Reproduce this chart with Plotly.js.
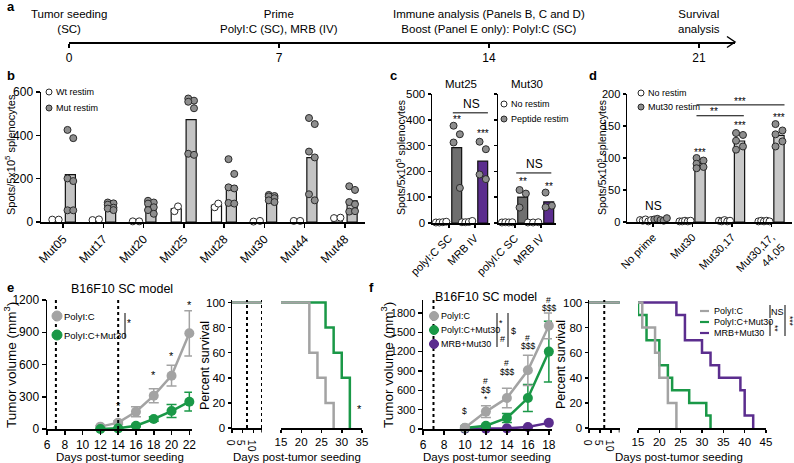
<!DOCTYPE html>
<html><head><meta charset="utf-8">
<script src="https://cdn.plot.ly/plotly-3.0.1.min.js"></script>
<style>html,body{margin:0;padding:0;background:#fff}#chart{width:794px;height:463px}</style>
</head><body><div id="chart"></div>
<script>
// ================= DATA =================
// Panel a – timeline
const timelineDays = [0, 7, 14, 21];
const timelineLabels = ["Tumor seeding<br>(SC)", "Prime<br>PolyI:C (SC), MRB (IV)",
  "Immune analysis (Panels B, C and D)<br>Boost (Panel E only): PolyI:C (SC)", "Survival<br>analysis"];

// Panel b – ELISPOT per mutation
const bMutations = ["Mut05","Mut17","Mut20","Mut25","Mut28","Mut30","Mut44","Mut48"];
const bWtRestim = [[11,11],[9,12],[3,3],[50,72],[68,85],[2,5],[5,5],[18,20]];
const bMutRestim = [[425,387,201,189,54,54],[90,86,80,66,62,55],[98,90,85,68,55,38],
  [570,560,555,525,315,310],[290,222,160,155,88,85],[125,120,118,110,100,92],
  [480,452,325,298,128,100],[165,148,92,82,48,50]];

// Panel c – Mut25 / Mut30 by route
const cRoutes = ["polyI:C SC","MRB IV"];
const cMut25NoRestim = [[2,2,3,5],[3,3,4,8]];
const cMut25Peptide = [[377,344,312,136],[315,286,188,170]];
const cMut30NoRestim = [[2,3,2,3],[2,2,3]];
const cMut30Peptide = [[128,114,60],[118,67,61]];

// Panel d – prime combinations
const dGroups = ["No prime","Mut30","Mut30,17","Mut30,17,<br>44,05"];
const dNoRestim = [[3,2,4,1,3],[1,1,2,1,2],[2,1,3,1,2],[1,2,1,2,1]];
const dMut30Restim = [[4,5,3,2,6],[100,96,91,86,84],[139,136,127,118,113],[153,143,137,126,118]];

// Panel e – tumor growth
const eDays = [12,14,16,18,20,22];
const ePolyIC = [22,59,161,310,496,890];
const ePolyICErr = [8,15,46,65,97,210];
const eMut30 = [0,6,31,93,167,254];
const eMut30Err = [3,5,10,20,60,87];
const eTreatDays = [7,14];
const eStarDays = [14,18,20,22];
const eStarY = [215,500,675,1150];
// Panel e – survival
const eSurvPolyDays = [0,22,24,26,28];
const eSurvPoly = [100,60,40,20,0];
const eSurvMutDays = [0,26,28,30,32];
const eSurvMut = [100,80,60,40,0];

// Panel f – tumor growth
const fDays = [10,12,14,16,18];
const fPolyIC = [20,270,480,910,1600];
const fPolyICErr = [30,90,150,235,200];
const fMut30 = [15,50,170,480,1200];
const fMut30Err = [10,20,70,210,470];
const fMRB = [5,5,10,30,95];
const fMRBErr = [5,5,5,10,20];
const fTreatDays = [7];
const fSigDays = [10,12,12,12,14,14,16,16,18,18];
const fSigLabels = ["$","#","$$","*","#","$$$","#","$$$","#","$$$"];
const fSigY = [280,745,610,465,1025,880,1415,1285,2000,1880];
// Panel f – survival
const fSurvPolyDays = [0,16,19,20,22,24];
const fSurvPoly = [100,80,60,40,20,0];
const fSurvMutDays = [0,15,17,20,22,23,27,31,32];
const fSurvMut = [100,90,70,50,40,30,20,10,0];
const fSurvMRBDays = [0,24,26,30,32,34,39,40,42];
const fSurvMRB = [100,90,70,60,50,40,30,10,0];

// ================= HELPERS =================
const W = 794, H = 463;
const X = p => p / W, Y = p => 1 - p / H;
const dom = (a, b) => [X(a), X(b)];
const vdom = (top, bottom) => [Y(bottom), Y(top)];
const mean = a => a.reduce((s, v) => s + v, 0) / a.length;
const safe = s => s.replace(/\$/g, "&#36;");   // keep "$" literal (no TeX)
const FONT = "Liberation Sans, Arial, sans-serif";
const GREY = "#a3a3a3", GREEN = "#1a9847", PURPLE = "#5b2d8e", DOTGREY = "#8e8e8e", EDGE = "#2a2a2a";
const tf = s => ({size:s, color:"#000", family:FONT});

function ax(extra) {
  return Object.assign({showgrid:false, zeroline:false, showline:true, linecolor:"#000", linewidth:1.5,
    ticks:"outside", ticklen:5, tickwidth:1.5, tickcolor:"#000", fixedrange:true, tickfont:tf(11.5)}, extra);
}
function swarm(vals, center, half, low) {
  const n = vals.length;
  if (Math.max(...vals) < low) return vals.map((v, j) => center + (n === 1 ? 0 : -half + 2 * half * j / (n - 1)));
  return vals.map((v, j) => center + (j % 2 === 0 ? -1 : 1) * half * 0.55);
}
function barTrace(xs, ys, w, fill, xa, ya) {
  return {type:"bar", x:xs, y:ys, width:w, xaxis:xa, yaxis:ya, marker:{color:fill, line:{color:"#111", width:1.2}}, hoverinfo:"skip"};
}
function dotTrace(groups, offset, half, low, fill, xa, ya) {
  const xs = [], ys = [];
  groups.forEach((g, i) => { swarm(g, i + offset, half, low).forEach((x, j) => { xs.push(x); ys.push(g[j]); }); });
  return {type:"scatter", mode:"markers", x:xs, y:ys, xaxis:xa, yaxis:ya,
    marker:{size:7, color:fill, line:{color:EDGE, width:1}}, hoverinfo:"skip", cliponaxis:false};
}
const shapes = [], annotations = [];
function txt(text, x, y, o) {
  o = o || {};
  annotations.push(Object.assign({text:safe(text), x:X(x), y:Y(y), xref:"paper", yref:"paper", showarrow:false,
    xanchor:"center", yanchor:"middle", font:tf(o.size || 11)}, o.extra || {}));
}
function dtxt(text, x, y, xr, yr, size, extra) {
  annotations.push(Object.assign({text:safe(text), x:x, y:y, xref:xr, yref:yr, showarrow:false, xanchor:"center",
    yanchor:"middle", font:tf(size || 10)}, extra || {}));
}
function dot(cx, cy, r, fill, edge) {
  shapes.push({type:"circle", xref:"paper", yref:"paper", xsizemode:"pixel", ysizemode:"pixel",
    xanchor:X(cx), yanchor:Y(cy), x0:-r, x1:r, y0:-r, y1:r, fillcolor:fill, line:{color:edge, width:1}});
}
function pline(x0, y0, x1, y1, color, w) {
  shapes.push({type:"line", xref:"paper", yref:"paper", x0:X(x0), y0:Y(y0), x1:X(x1), y1:Y(y1),
    line:{color:color, width:w}});
}
function dline(x0, y0, x1, y1, xr, yr, w) {
  shapes.push({type:"line", xref:xr, yref:yr, x0:x0, y0:y0, x1:x1, y1:y1, line:{color:"#000", width:w || 1}});
}
function vdotted(day, xr, yr) {
  shapes.push({type:"line", xref:xr, yref:yr + " domain", x0:day, x1:day, y0:0, y1:1,
    line:{color:"#000", width:2, dash:"dot"}});
}
function endCap(day, xr, yr) {
  shapes.push({type:"line", xref:xr, yref:yr + " domain", x0:day, x1:day, y0:-0.035, y1:0.0,
    line:{color:"#000", width:1.5}});
}

const traces = [];
const layout = {width:W, height:H, margin:{l:0, r:0, t:0, b:0}, paper_bgcolor:"#fff", plot_bgcolor:"rgba(0,0,0,0)",
  showlegend:false, barmode:"overlay", font:{family:FONT, color:"#000"}, shapes:shapes, annotations:annotations};

// ================= PANEL a =================
layout.xaxis = ax({domain:dom(69,735), range:[0,22.2], anchor:"y", tickvals:timelineDays, ticklen:4, tickfont:tf(12)});
layout.yaxis = {domain:vdom(20,42), range:[0,1], visible:false, anchor:"x", fixedrange:true};
timelineDays.forEach((d, i) => dtxt(timelineLabels[i], d, Y(21), "x", "paper", 11.5));
// arrow head at the end of the timeline axis
shapes.push({type:"path", xref:"paper", yref:"paper",
  path:`M ${X(727)} ${Y(36.5)} L ${X(735)} ${Y(42)} L ${X(727)} ${Y(47.5)}`, line:{color:"#000", width:1.5}});

// ================= PANEL b =================
const bIdx = bMutations.map((_, i) => i);
layout.xaxis2 = ax({domain:dom(41,365), range:[-0.55,7.5], anchor:"y2", tickvals:bIdx, ticktext:bMutations,
  tickangle:-45, ticklen:4, tickfont:tf(12)});
layout.yaxis2 = ax({domain:vdom(92,222), range:[0,600], anchor:"x2", tickvals:[0,200,400,600], ticklen:4, tickfont:tf(12)});
traces.push(barTrace(bIdx.map(i => i - 0.19), bWtRestim.map(mean), 0.25, "#fff", "x2", "y2"));
traces.push(barTrace(bIdx.map(i => i + 0.18), bMutRestim.map(mean), 0.25, "#c4c4c4", "x2", "y2"));
traces.push(dotTrace(bWtRestim, -0.19, 0.08, 30, "#fff", "x2", "y2"));
traces.push(dotTrace(bMutRestim, 0.18, 0.13, 30, DOTGREY, "x2", "y2"));
dot(49, 92, 3, "#fff", EDGE); txt("Wt restim", 54, 92, {size:9, extra:{xanchor:"left"}});
dot(49, 108, 3, DOTGREY, EDGE); txt("Mut restim", 54, 108, {size:9, extra:{xanchor:"left"}});
txt("Spots/5x10<sup>5</sup> splenocytes", 10, 155, {size:11, extra:{textangle:-90}});

// ================= PANEL c =================
const cIdx = [0, 1];
const cX = {range:[-0.65,1.58], tickvals:cIdx, ticktext:cRoutes, tickangle:-45, ticklen:3, tickfont:tf(11)};
layout.xaxis3 = ax(Object.assign({domain:dom(432,490), anchor:"y3"}, cX));
layout.yaxis3 = ax({domain:vdom(94,223), range:[0,500], anchor:"x3", dtick:100, ticklen:3, tickfont:tf(11.5)});
layout.xaxis4 = ax(Object.assign({domain:dom(498,556), anchor:"y4"}, cX));
layout.yaxis4 = ax({domain:vdom(94,223), range:[0,500], anchor:"x4", dtick:100, ticklen:3, showticklabels:false});
[[cMut25NoRestim, cMut25Peptide, "x3", "y3"], [cMut30NoRestim, cMut30Peptide, "x4", "y4"]].forEach(([nr, pep, xa, ya]) => {
  traces.push(barTrace(cIdx.map(i => i - 0.3), nr.map(mean), 0.38, "#fff", xa, ya));
  traces.push(Object.assign(barTrace(cIdx.map(i => i + 0.3), pep.map(mean), 0.38, "#6f6f6f", xa, ya),
    {marker:{color:["#6f6f6f", PURPLE], line:{color:"#111", width:1.2}}}));
  traces.push(dotTrace(nr, -0.3, 0.2, 30, "#fff", xa, ya));
  traces.push(dotTrace(pep, 0.3, 0.22, 30, DOTGREY, xa, ya));
});
txt("Mut25", 461, 84, {size:11.5}); txt("Mut30", 527, 84, {size:11.5});
dline(0.15, 427, 1.5, 427, "x3", "y3", 1); dtxt("NS", 0.85, 462, "x3", "y3", 12);
dtxt("**", 0.3, 400, "x3", "y3", 10); dtxt("***", 1.3, 345, "x3", "y3", 10);
dline(0.05, 194, 1.4, 194, "x4", "y4", 1); dtxt("NS", 0.75, 228, "x4", "y4", 12);
dtxt("**", 0.3, 160, "x4", "y4", 10); dtxt("**", 1.3, 143, "x4", "y4", 10);
dot(504, 104, 3, "#fff", EDGE); txt("No restim", 509, 104, {size:9, extra:{xanchor:"left"}});
dot(504, 119, 3, DOTGREY, EDGE); txt("Peptide restim", 509, 119, {size:9, extra:{xanchor:"left"}});
txt("Spots/5x10<sup>5</sup> splenocytes", 400, 158, {size:10.5, extra:{textangle:-90}});

// ================= PANEL d =================
const dIdx = [0, 1, 2, 3];
layout.xaxis5 = ax({domain:dom(627,792), range:[-0.66,3.52], anchor:"y5", tickvals:dIdx, ticktext:dGroups,
  tickangle:-45, ticklen:3, tickfont:tf(11)});
layout.yaxis5 = ax({domain:vdom(94,222), range:[0,200], anchor:"x5", dtick:50, ticklen:3, tickfont:tf(11)});
traces.push(barTrace(dIdx.map(i => i - 0.19), dNoRestim.map(mean), 0.26, "#fff", "x5", "y5"));
traces.push(barTrace(dIdx.map(i => i + 0.19), dMut30Restim.map(mean), 0.26, "#c8c8c8", "x5", "y5"));
traces.push(dotTrace(dNoRestim, -0.19, 0.14, 12, "#fff", "x5", "y5"));
traces.push(dotTrace(dMut30Restim, 0.19, 0.16, 12, DOTGREY, "x5", "y5"));
dtxt("NS", 0, 25, "x5", "y5", 12);
dtxt("***", 1.19, 108, "x5", "y5", 10); dtxt("***", 2.19, 150, "x5", "y5", 10); dtxt("***", 3.19, 163, "x5", "y5", 10);
dline(1.1, 166, 2.3, 166, "x5", "y5", 1); dtxt("**", 1.55, 172, "x5", "y5", 10);
dline(1.1, 183, 3.33, 183, "x5", "y5", 1); dtxt("***", 2.2, 189, "x5", "y5", 10);
dot(641, 93, 3, "#fff", EDGE); txt("No restim", 646, 93, {size:9, extra:{xanchor:"left"}});
dot(641, 107, 3, DOTGREY, EDGE); txt("Mut30 restim", 646, 107, {size:9, extra:{xanchor:"left"}});
txt("Spots/5x10<sup>5</sup> splenocytes", 601, 158, {size:10.5, extra:{textangle:-90}});

// ================= PANEL e =================
layout.xaxis6 = ax({domain:dom(47,192), range:[6,22.3], anchor:"y6", tickvals:[6,8,10,12,14,16,18,20,22], ticklen:4, tickfont:tf(12)});
layout.yaxis6 = ax({domain:vdom(300,429), range:[0,1200], anchor:"x6", tickvals:[0,300,600,900,1200], ticklen:4, tickfont:tf(12)});
eTreatDays.forEach(d => vdotted(d, "x6", "y6"));
function growth(xs, ys, err, color, xa, ya) {
  return {type:"scatter", mode:"lines+markers", x:xs, y:ys, xaxis:xa, yaxis:ya, cliponaxis:false,
    line:{color:color, width:2.5}, marker:{size:10, color:color},
    error_y:{type:"data", array:err, color:color, thickness:1.5, width:5}, hoverinfo:"skip"};
}
traces.push(growth(eDays, ePolyIC, ePolyICErr, GREY, "x6", "y6"));
traces.push(growth(eDays, eMut30, eMut30Err, GREEN, "x6", "y6"));
eStarDays.forEach((d, i) => dtxt("*", d, eStarY[i], "x6", "y6", 11));
txt("B16F10 SC model", 122, 289, {size:12.5});
pline(52, 316, 62, 316, GREY, 2); dot(57, 316, 5, GREY, GREY); txt("PolyI:C", 62, 316, {size:9.5, extra:{xanchor:"left"}});
pline(52, 335, 62, 335, GREEN, 2); dot(57, 335, 5, GREEN, GREEN); txt("PolyI:C+Mut30", 62, 335, {size:9.5, extra:{xanchor:"left"}});
pline(125, 313, 125, 338, "#000", 1); txt("*", 129, 323, {size:10});
txt("Tumor volume (mm<sup>3</sup>)", 10, 365, {size:13.5, extra:{textangle:-90}});
txt("Days post-tumor seeding", 120, 457, {size:11.5});
// survival e
layout.xaxis7 = ax({domain:dom(232,262), range:[0,14], anchor:"y7", tickvals:[0,5,10], ticklen:3, tickfont:tf(10.5)});
layout.yaxis7 = ax({domain:vdom(300,428), range:[0,102], anchor:"x7", tickvals:[0,20,40,60,80,100], ticklen:3, tickfont:tf(11.5)});
layout.xaxis8 = ax({domain:dom(281,362), range:[15,35], anchor:"y7", tickvals:[15,20,25,30,35], ticklen:3, tickfont:tf(11.5)});
endCap(14, "x7", "y7");
eTreatDays.forEach(d => vdotted(d, "x7", "y7"));
function surv(xs, ys, color, xa, ya) {
  return {type:"scatter", mode:"lines", x:xs, y:ys, xaxis:xa, yaxis:ya, line:{color:color, width:2.5, shape:"hv"}, hoverinfo:"skip"};
}
["x7", "x8"].forEach(xa => {
  traces.push(surv(eSurvMutDays, eSurvMut, GREEN, xa, "y7"));
  traces.push(surv(eSurvPolyDays, eSurvPoly, GREY, xa, "y7"));
});
dtxt("*", 34.5, 15, "x8", "y7", 11);
txt("Percent survival", 205, 365, {size:12.5, extra:{textangle:-90}});
txt("Days post-tumor seeding", 297, 457, {size:11.5});

// ================= PANEL f =================
layout.xaxis9 = ax({domain:dom(423,552), range:[6,18.3], anchor:"y9", tickvals:[6,8,10,12,14,16,18], ticklen:4, tickfont:tf(12)});
layout.yaxis9 = ax({domain:vdom(300,429), range:[0,2000], anchor:"x9", tickvals:[0,300,600,900,1200,1500,1800],
  ticklen:4, tickfont:tf(11)});
fTreatDays.forEach(d => vdotted(d, "x9", "y9"));
traces.push(growth(fDays, fMRB, fMRBErr, PURPLE, "x9", "y9"));
traces.push(growth(fDays, fMut30, fMut30Err, GREEN, "x9", "y9"));
traces.push(growth(fDays, fPolyIC, fPolyICErr, GREY, "x9", "y9"));
fSigDays.forEach((d, i) => dtxt(fSigLabels[i], d, fSigY[i], "x9", "y9", 8.5));
txt("B16F10 SC model", 486, 297, {size:12.5});
[[GREY, "PolyI:C", 316], [GREEN, "PolyI:C+Mut30", 330], [PURPLE, "MRB+Mut30", 344]].forEach(([c, t, y]) => {
  pline(429, y, 439, y, c, 2); dot(434, y, 4.5, c, c); txt(t, 439, y, {size:9, extra:{xanchor:"left"}});
});
pline(497, 313, 497, 347, "#000", 1); txt("*", 501, 323, {size:9}); txt("#", 502, 339, {size:9});
pline(508, 313, 508, 347, "#000", 1); txt("$", 513, 331, {size:9});
txt("Tumor volume (mm<sup>3</sup>)", 387, 365, {size:13.5, extra:{textangle:-90}});
txt("Days post-tumor seeding", 487, 457, {size:11.5});
// survival f
layout.xaxis10 = ax({domain:dom(589,619.5), range:[0,14], anchor:"y10", tickvals:[0,5,10], ticklen:3, tickfont:tf(10.5)});
layout.yaxis10 = ax({domain:vdom(300,428), range:[0,102], anchor:"x10", tickvals:[0,20,40,60,80,100], ticklen:3, tickfont:tf(11.5)});
layout.xaxis11 = ax({domain:dom(638,766), range:[15,45], anchor:"y10", tickvals:[15,20,25,30,35,40,45], ticklen:3, tickfont:tf(11.5)});
endCap(14, "x10", "y10");
fTreatDays.forEach(d => vdotted(d, "x10", "y10"));
["x10", "x11"].forEach(xa => {
  traces.push(surv(fSurvMRBDays, fSurvMRB, PURPLE, xa, "y10"));
  traces.push(surv(fSurvMutDays, fSurvMut, GREEN, xa, "y10"));
  traces.push(surv(fSurvPolyDays, fSurvPoly, GREY, xa, "y10"));
});
[[GREY, "PolyI:C", 311], [GREEN, "PolyI:C+Mut30", 322], [PURPLE, "MRB+Mut30", 333]].forEach(([c, t, y]) => {
  pline(700, y, 709, y, c, 2.2); txt(t, 712, y, {size:9, extra:{xanchor:"left"}});
});
pline(770, 305, 770, 318, "#000", 1); txt("NS", 777, 312, {size:9});
pline(770, 321, 770, 336, "#000", 1); txt("**", 775, 328, {size:8.5, extra:{textangle:90}});
pline(785, 305, 785, 336, "#000", 1); txt("***", 790, 321, {size:8.5, extra:{textangle:90}});
txt("Percent survival", 561, 365, {size:12.5, extra:{textangle:-90}});
txt("Days post-tumor seeding", 679, 457, {size:11.5});

// panel letters
[["a",5,7],["b",5,76],["c",388,76],["d",587,76],["e",5,287],["f",367,287]].forEach(([t,x,y]) =>
  txt("<b>" + t + "</b>", x, y, {size:13, extra:{xanchor:"left"}}));

Plotly.newPlot("chart", traces, layout, {staticPlot:true, displayModeBar:false});
</script></body></html>
